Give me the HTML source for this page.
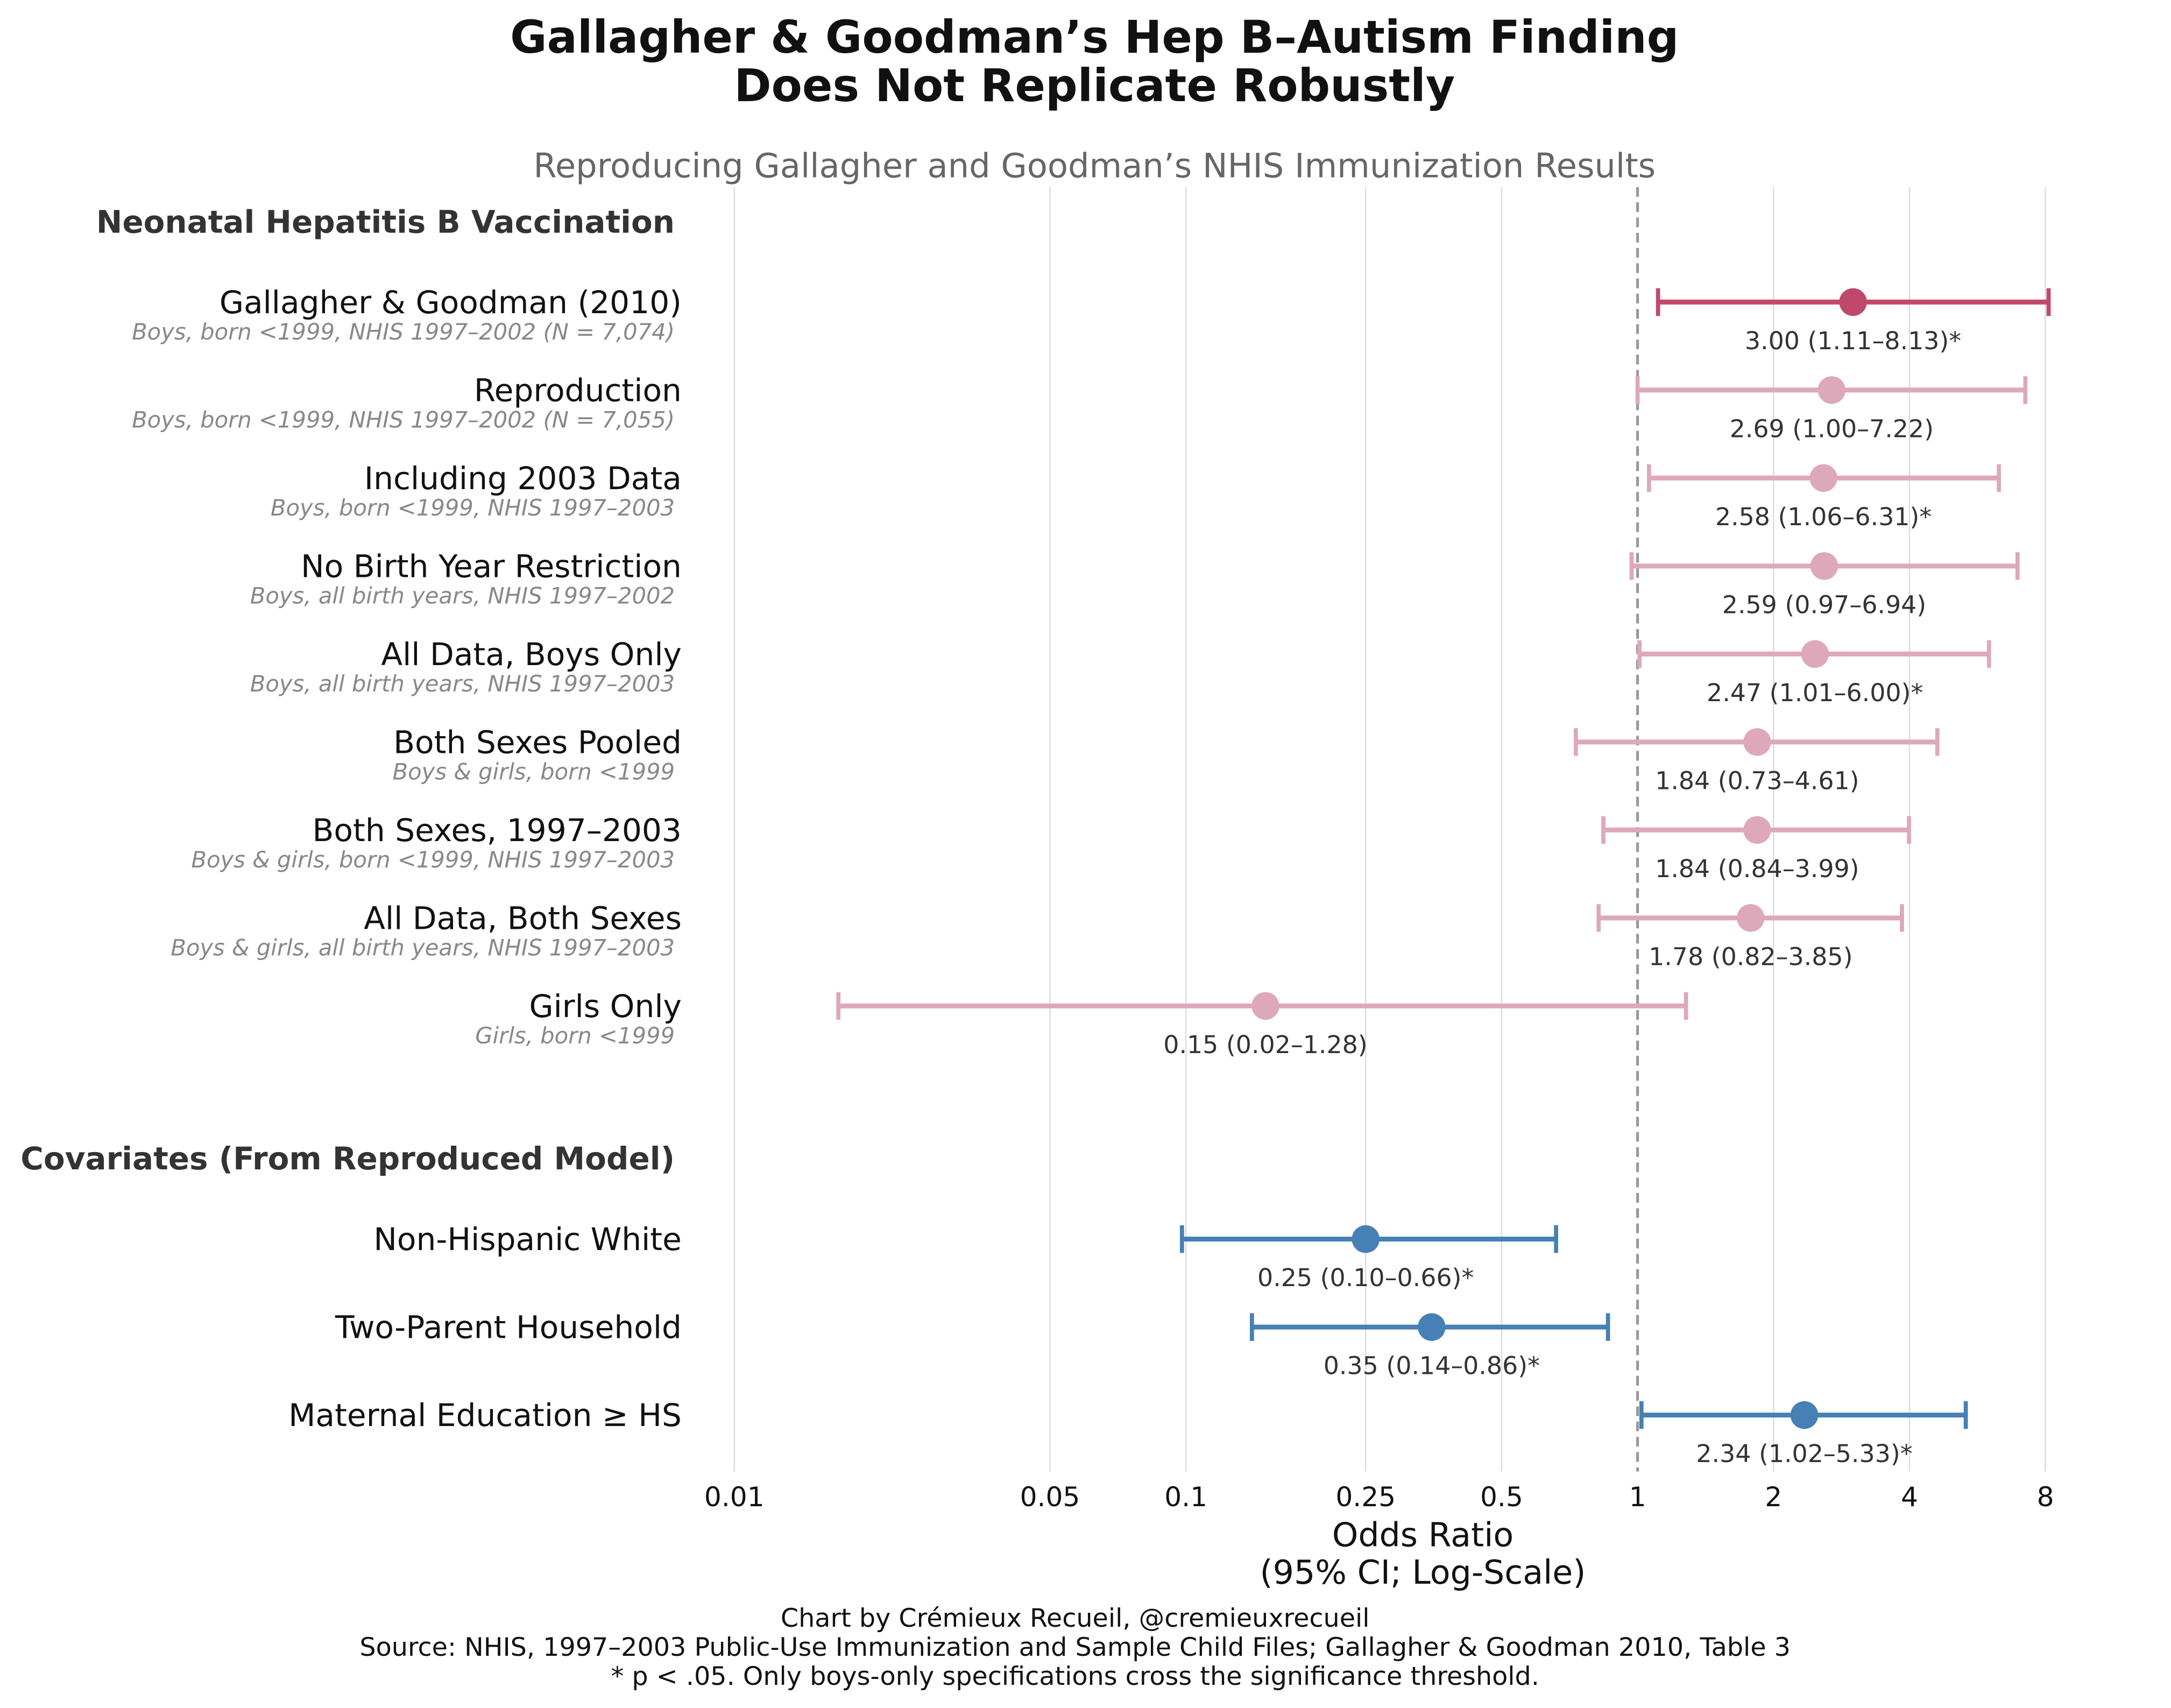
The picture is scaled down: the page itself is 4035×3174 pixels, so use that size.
<!DOCTYPE html>
<html><head><meta charset="utf-8"><style>html,body{margin:0;padding:0;background:#fff}svg{display:block}text{font-family:"DejaVu Sans","Liberation Sans",sans-serif}</style></head>
<body>
<svg id="chart" width="4035" height="3174" viewBox="0 0 1567 1232.7" xmlns="http://www.w3.org/2000/svg">
<text x="790" y="38" text-anchor="middle" font-size="32.4" font-weight="bold" fill="#111">Gallagher &amp; Goodman’s Hep B–Autism Finding</text>
<text x="790" y="73" text-anchor="middle" font-size="32.4" font-weight="bold" fill="#111">Does Not Replicate Robustly</text>
<text x="790" y="128" text-anchor="middle" font-size="24.2" fill="#666">Reproducing Gallagher and Goodman’s NHIS Immunization Results</text>
<g id="grid"></g><g id="marks"></g><g id="labels"></g>
<text x="487" y="168" text-anchor="end" font-size="22.5" font-weight="bold" fill="#333">Neonatal Hepatitis B Vaccination</text>
<text x="487" y="844" text-anchor="end" font-size="22.5" font-weight="bold" fill="#333">Covariates (From Reproduced Model)</text>
<text x="1027" y="1116" text-anchor="middle" font-size="24" fill="#111">Odds Ratio</text>
<text x="1027" y="1143" text-anchor="middle" font-size="24" fill="#111">(95% CI; Log-Scale)</text>
<text x="776" y="1174" text-anchor="middle" font-size="18.5" fill="#111">Chart by Crémieux Recueil, @cremieuxrecueil</text>
<text x="776" y="1195" text-anchor="middle" font-size="18.5" fill="#111">Source: NHIS, 1997–2003 Public-Use Immunization and Sample Child Files; Gallagher &amp; Goodman 2010, Table 3</text>
<text x="776" y="1216" text-anchor="middle" font-size="18.5" fill="#111">* p &lt; .05. Only boys-only specifications cross the significance threshold.</text>
</svg>
<script>
const labels=["Gallagher & Goodman (2010)","Reproduction","Including 2003 Data","No Birth Year Restriction","All Data, Boys Only","Both Sexes Pooled","Both Sexes, 1997–2003","All Data, Both Sexes","Girls Only","Non-Hispanic White","Two-Parent Household","Maternal Education ≥ HS"];
const sublabels=["Boys, born <1999, NHIS 1997–2002 (N = 7,074)","Boys, born <1999, NHIS 1997–2002 (N = 7,055)","Boys, born <1999, NHIS 1997–2003","Boys, all birth years, NHIS 1997–2002","Boys, all birth years, NHIS 1997–2003","Boys & girls, born <1999","Boys & girls, born <1999, NHIS 1997–2003","Boys & girls, all birth years, NHIS 1997–2003","Girls, born <1999","","",""];
const orValues=[3.00,2.69,2.58,2.59,2.47,1.84,1.84,1.78,0.15,0.25,0.35,2.34];
const lowerCI=[1.11,1.00,1.06,0.97,1.01,0.73,0.84,0.82,0.017,0.098,0.14,1.02];
const upperCI=[8.13,7.22,6.31,6.94,6.00,4.61,3.99,3.85,1.28,0.66,0.86,5.33];
const groups=["orig","rep","rep","rep","rep","rep","rep","rep","rep","cov","cov","cov"];
const rowPos=[0,1,2,3,4,5,6,7,8,10.65,11.65,12.65];
const tickValues=[0.01,0.05,0.1,0.25,0.5,1,2,4,8];
const tickLabels=["0.01","0.05","0.1","0.25","0.5","1","2","4","8"];
const NS="http://www.w3.org/2000/svg";
const x=v=>1182+326*Math.log10(v);
const y=r=>218+63.5*r;
const col={orig:"#c0496b",rep:"#dda9ba",cov:"#4680b5"};
function mk(tag,attrs,parent,text){const e=document.createElementNS(NS,tag);for(const k in attrs)e.setAttribute(k,attrs[k]);if(text!==undefined)e.textContent=text;parent.appendChild(e);return e;}
const grid=document.getElementById('grid'),marks=document.getElementById('marks'),lab=document.getElementById('labels');
tickValues.forEach((t,i)=>{
 if(t!==1){const g=mk('line',{x1:x(t),x2:x(t),y1:135,y2:1062,stroke:"#dddddd","stroke-width":1},grid);
 
 }
 const tl=mk('text',{x:x(t),y:1087,"text-anchor":"middle","font-size":19.5,fill:"#111"},grid,tickLabels[i]);
 
 
});
const ref=mk('line',{x1:x(1),x2:x(1),y1:135,y2:1062,stroke:"#999","stroke-width":2,"stroke-dasharray":"7,4"},grid);


const f2=v=>(Math.round(v*100+1e-9)/100).toFixed(2);
labels.forEach((l,i)=>{
 const yy=y(rowPos[i]),c=col[groups[i]];
 const g=mk('g',{},marks);
 
 
 mk('line',{x1:x(lowerCI[i]),x2:x(upperCI[i]),y1:yy,y2:yy,stroke:c,"stroke-width":3.5},g);
 mk('line',{x1:x(lowerCI[i]),x2:x(lowerCI[i]),y1:yy-10,y2:yy+10,stroke:c,"stroke-width":3},g);
 mk('line',{x1:x(upperCI[i]),x2:x(upperCI[i]),y1:yy-10,y2:yy+10,stroke:c,"stroke-width":3},g);
 mk('circle',{cx:x(orValues[i]),cy:yy,r:10,fill:c},g);
 const sig=lowerCI[i]>1||upperCI[i]<1;
 const vt=mk('text',{x:x(orValues[i]),y:yy+34,"text-anchor":"middle","font-size":17.8,fill:"#333"},lab,f2(orValues[i])+" ("+f2(lowerCI[i])+"–"+f2(upperCI[i])+")"+(sig?"*":""));
 
 
 const lt=mk('text',{x:492,y:yy+8,"text-anchor":"end","font-size":22.6,fill:"#111"},lab,l);
 
 
 if(sublabels[i]){const st=mk('text',{x:487,y:yy+27,"text-anchor":"end","font-size":16.2,"font-style":"italic",fill:"#888"},lab,sublabels[i]);
 
 }
});
</script>
</body></html>
